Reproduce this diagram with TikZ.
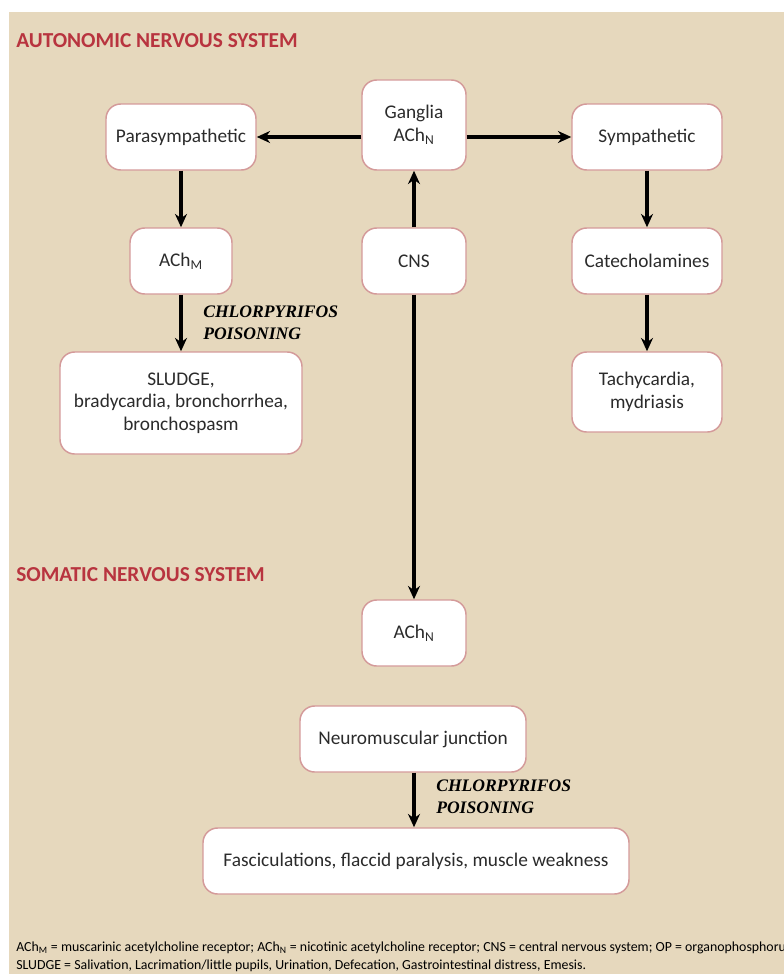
\documentclass[tikz,border=0pt]{standalone}
\usepackage{fontspec}
\setmainfont{Carlito}
\newfontfamily\labelfont{Liberation Serif}
\usetikzlibrary{arrows.meta}
\definecolor{paper}{HTML}{E6D8BD}
\definecolor{headred}{HTML}{B8343F}
\definecolor{boxline}{HTML}{D49A9A}
\definecolor{bodytext}{HTML}{2B2B2B}
\tikzset{
  box/.style={draw=boxline, line width=1.1pt, fill=white, rounded corners=11pt,
    align=center, inner sep=0pt, font=\fontsize{14.5}{17}\selectfont, text=bodytext},
  link/.style={line width=2.3pt, -{Stealth[length=10pt,width=9pt]}},
  heading/.style={anchor=west, text=headred, font=\bfseries\fontsize{16}{18}\selectfont, inner sep=0pt},
  poison/.style={anchor=north west, align=left, inner sep=0pt,
    font=\labelfont\bfseries\itshape\fontsize{13.2}{16.5}\selectfont},
  note/.style={anchor=west, inner sep=0pt, text=black, font=\fontsize{10.4}{12}\selectfont}
}
\begin{document}
\begin{tikzpicture}[x=0.75pt,y=-0.75pt]
  \useasboundingbox (0,0) rectangle (784,974);
  \fill[white] (0,0) rectangle (784,974);
  \fill[paper] (9,12) rectangle (784,974);

  % section headings
  \node[heading] (hauto) at (16,41) {AUTONOMIC NERVOUS SYSTEM};
  \node[heading] (hsom) at (16,575) {SOMATIC NERVOUS SYSTEM};

  % autonomic branch
  \node[box, minimum width=112.5pt, minimum height=49.5pt] (para) at (181,137) {Parasympathetic};
  \node[box, minimum width=78pt, minimum height=67.5pt] (gang) at (414,125) {Ganglia\\ACh\textsubscript{N}};
  \node[box, minimum width=112.5pt, minimum height=49.5pt] (symp) at (647,137) {Sympathetic};
  \node[box, minimum width=76.5pt, minimum height=49.5pt] (achm) at (181,261) {ACh\textsubscript{M}};
  \node[box, minimum width=78pt, minimum height=49.5pt] (cns) at (414,261) {CNS};
  \node[box, minimum width=112.5pt, minimum height=49.5pt] (cat) at (647,261) {Catecholamines};
  \node[box, minimum width=181.5pt, minimum height=76.5pt] (sludge) at (181,403)
    {SLUDGE,\\bradycardia, bronchorrhea,\\bronchospasm};
  \node[box, minimum width=112.5pt, minimum height=60pt] (tachy) at (647,392)
    {Tachycardia,\\mydriasis};

  % somatic branch
  \node[box, minimum width=78pt, minimum height=49.5pt] (achn) at (414,633) {ACh\textsubscript{N}};
  \node[box, minimum width=169.5pt, minimum height=49.5pt] (nmj) at (413,739) {Neuromuscular junction};
  \node[box, minimum width=319.5pt, minimum height=49.5pt] (fasc) at (416,861)
    {Fasciculations, flaccid paralysis, muscle weakness};

  % connectors
  \draw[link] (gang.west |- para.east) -- (para.east);
  \draw[link] (gang.east |- symp.west) -- (symp.west);
  \draw[link] (para) -- (achm);
  \draw[link] (achm) -- (sludge);
  \draw[link] (cns) -- (gang);
  \draw[link] (cns) -- (achn);
  \draw[link] (symp) -- (cat);
  \draw[link] (cat) -- (tachy);
  \draw[link] (nmj.south -| fasc.north) ++(-2,0) coordinate (nmjout) (nmjout) -- (nmjout |- fasc.north);

  % poisoning labels
  \node[poison] (pois1) at (203,306) {CHLORPYRIFOS\\POISONING};
  \node[poison] (pois2) at (436,780) {CHLORPYRIFOS\\POISONING};

  % abbreviations
  \node[note] (n1) at (16,948) {ACh\textsubscript{M} = muscarinic acetylcholine receptor; ACh\textsubscript{N} = nicotinic acetylcholine receptor; CNS = central nervous system; OP = organophosphorus};
  \node[note] (n2) at (16,966) {SLUDGE = Salivation, Lacrimation/little pupils, Urination, Defecation, Gastrointestinal distress, Emesis.};
\end{tikzpicture}
\end{document}
